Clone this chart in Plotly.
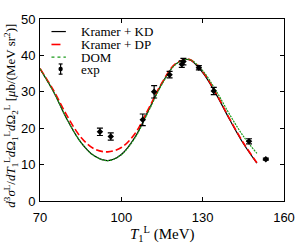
import plotly.graph_objects as go

# Theory curves
t_curve = [70, 75, 80, 85, 90, 95, 100, 105, 110, 115, 120, 125, 130, 135, 140, 145, 150]
kd = [36.3, 30.0, 22.4, 16.2, 12.4, 11.1, 12.8, 17.5, 24.9, 32.3, 37.6, 38.8, 35.3, 29.3, 22.3, 15.8, 10.4]
dp = [36.4, 30.4, 23.4, 17.6, 14.3, 13.5, 14.7, 18.5, 25.3, 32.5, 37.7, 38.9, 35.5, 29.5, 22.5, 16.0, 10.5]
dom = [36.3, 30.0, 22.4, 16.2, 12.4, 11.1, 12.7, 17.3, 24.6, 32.1, 37.5, 38.9, 35.8, 30.2, 23.7, 17.8, 13.1]

# Experimental data
t_exp = [92.1, 96.1, 107.9, 112.1, 117.8, 122.3, 122.9, 128.6, 134.1, 147.1, 153.3]
y_exp = [19.0, 17.7, 22.3, 30.0, 34.7, 37.6, 38.3, 36.6, 30.2, 16.4, 11.5]
e_exp = [1.0, 1.0, 1.6, 1.7, 0.9, 0.9, 0.9, 0.6, 1.0, 0.7, 0.3]

x_ticks = [70, 100, 130, 160]
legend_names = ["Kramer + KD", "Kramer + DP", "DOM", "exp"]

SERIF = "Liberation Serif, Times New Roman, Times, serif"
SANS = "Liberation Sans, Arial, Helvetica, sans-serif"

fig = go.Figure()
fig.add_trace(go.Scatter(x=t_curve, y=kd, mode="lines", line=dict(color="black", width=1.2, shape="spline"),
                         name=legend_names[0], showlegend=False))
fig.add_trace(go.Scatter(x=t_curve, y=dp, mode="lines", line=dict(color="#ff0000", width=1.6, dash="7px,3px", shape="spline"),
                         name=legend_names[1], showlegend=False))
fig.add_trace(go.Scatter(x=t_curve, y=dom, mode="lines", line=dict(color="#1a9a1a", width=1.2, dash="2px,1px", shape="spline"),
                         name=legend_names[2], showlegend=False))
fig.add_trace(go.Scatter(x=t_exp, y=y_exp, mode="markers", marker=dict(color="black", size=5, symbol="diamond"),
                         error_y=dict(type="data", array=e_exp, color="black", thickness=1.2, width=3),
                         name=legend_names[3], showlegend=False))

# Custom compact legend (paper coordinates)
rows = [0.931, 0.860, 0.790, 0.725]
x0, x1, xt = 0.047, 0.106, 0.165
styles = [dict(color="black", width=1.2), dict(color="#ff0000", width=1.6, dash="dash"),
          dict(color="#1a9a1a", width=1.2, dash="dot")]
for r, st in zip(rows[:3], styles):
    fig.add_shape(type="line", xref="paper", yref="paper", x0=x0, x1=x1, y0=r, y1=r, line=st)
xm = (x0 + x1) / 2 + 0.008
fig.add_shape(type="line", xref="paper", yref="paper", x0=xm, x1=xm, y0=rows[3] - 0.028, y1=rows[3] + 0.028,
              line=dict(color="black", width=1.2))
for yy in (rows[3] - 0.028, rows[3] + 0.028):
    fig.add_shape(type="line", xref="paper", yref="paper", x0=xm - 0.008, x1=xm + 0.008, y0=yy, y1=yy,
                  line=dict(color="black", width=1.2))
fig.add_shape(type="circle", xref="paper", yref="paper", x0=xm - 0.009, x1=xm + 0.009,
              y0=rows[3] - 0.012, y1=rows[3] + 0.012, fillcolor="black", line=dict(width=0))
for r, name in zip(rows, legend_names):
    fig.add_annotation(xref="paper", yref="paper", x=xt, y=r, text=name, showarrow=False, borderpad=0,
                       xanchor="left", yanchor="middle", font=dict(family=SERIF, size=13, color="black"))

# Axis titles
fig.add_annotation(xref="paper", yref="paper", x=0.5, y=-0.18, yanchor="middle", xanchor="center",
                   text="<i>T</i><sub>1</sub><sup>L</sup> (MeV)", showarrow=False,
                   font=dict(family=SERIF, size=15, color="black"))
fig.add_annotation(xref="paper", yref="paper", x=-0.118, y=0.47, xanchor="center", yanchor="middle",
                   textangle=-90, showarrow=False,
                   text="<i>d</i><sup>3</sup><i>σ</i><sup>L</sup>/<i>dT</i><sub>1</sub><sup>L</sup><i>d</i>Ω<sub>1</sub><sup>L</sup><i>d</i>Ω<sub>2</sub><sup>L</sup> [<i>μ</i>b/(MeV sr<sup>2</sup>)]",
                   font=dict(family=SERIF, size=13, color="black"))

axis_common = dict(showline=True, linecolor="black", linewidth=1, mirror="ticks", ticks="inside",
                   ticklen=4, tickcolor="black", showgrid=False, zeroline=False,
                   tickfont=dict(family=SANS, size=13, color="black"))
fig.update_xaxes(range=[70, 160], tickvals=x_ticks, ticklabelstandoff=4, **axis_common)
fig.update_yaxes(range=[0, 50], dtick=10, ticklabelstandoff=1, **axis_common)

fig.update_layout(width=307, height=243, margin=dict(l=40, r=12, t=12, b=42),
                  paper_bgcolor="white", plot_bgcolor="white", showlegend=False)

# remove the browser's default 8px body margin so the figure sits at the page origin
fig.write_html("out.html", config={"displayModeBar": False},
               post_script="document.body.style.margin='0';document.body.style.overflow='hidden';")
